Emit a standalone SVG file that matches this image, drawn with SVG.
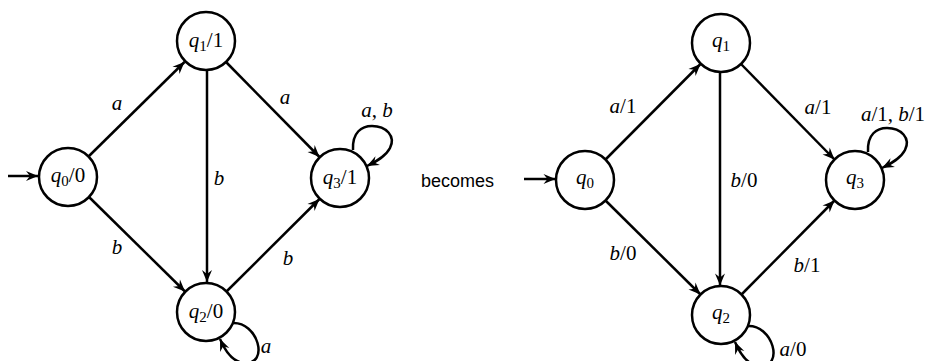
<svg xmlns="http://www.w3.org/2000/svg" width="928" height="361" viewBox="0 0 928 361">
<style>
.n{fill:#fff;stroke:#000;stroke-width:2.5}
.e{fill:none;stroke:#000;stroke-width:2.5}
text{font-family:"Liberation Serif","DejaVu Serif",serif;font-size:21px;fill:#000}
.t{text-anchor:middle}
.i{font-style:italic}
.s{font-size:15px}
.sans{font-family:"Liberation Sans","DejaVu Sans",sans-serif;font-size:18px}
</style>
<defs>
<marker id="ah" viewBox="-13 -6 14 12" refX="0" refY="0" markerWidth="14" markerHeight="12" orient="auto" markerUnits="userSpaceOnUse">
<path d="M0,0 L-12,-5 L-8,0 L-12,5 Z" fill="#000"/>
</marker>
</defs>
<g id="connectors">
<line class="e" x1="8" y1="176" x2="38" y2="176" marker-end="url(#ah)"/>
<line class="e" x1="89" y1="156" x2="184.5" y2="62" marker-end="url(#ah)"/>
<line class="e" x1="89" y1="197" x2="185" y2="291.5" marker-end="url(#ah)"/>
<line class="e" x1="207" y1="71" x2="207" y2="282" marker-end="url(#ah)"/>
<line class="e" x1="226" y1="62" x2="319.5" y2="157" marker-end="url(#ah)"/>
<line class="e" x1="227" y1="291" x2="319.5" y2="199" marker-end="url(#ah)"/>
<path class="e" d="M353,150 C352,132 362,126 372,126 C386,126 396,136 390,148 C386,156 377,161 367,166" marker-end="url(#ah)"/>
<path class="e" d="M232,323 C258,321 270,365 244,363 C233,362 226,353 220,339" marker-end="url(#ah)"/>
<text class="t i" x="117" y="110">a</text>
<text class="t i" x="117" y="254">b</text>
<text class="t i" x="219" y="185">b</text>
<text class="t i" x="285" y="104">a</text>
<text class="t" x="377" y="117"><tspan class="i">a</tspan>, <tspan class="i">b</tspan></text>
<text class="t i" x="288" y="265">b</text>
<text class="t i" x="266" y="353">a</text>

<line class="e" x1="524" y1="179" x2="555.5" y2="179" marker-end="url(#ah)"/>
<line class="e" x1="605.5" y1="159.5" x2="700.5" y2="64" marker-end="url(#ah)"/>
<line class="e" x1="605.5" y1="200.5" x2="700.5" y2="294.5" marker-end="url(#ah)"/>
<line class="e" x1="720" y1="73" x2="720" y2="285.5" marker-end="url(#ah)"/>
<line class="e" x1="741" y1="64" x2="834.5" y2="159.5" marker-end="url(#ah)"/>
<line class="e" x1="741.5" y1="294.5" x2="834.5" y2="200.5" marker-end="url(#ah)"/>
<path class="e" d="M868,152 C867,134 877,128 887,128 C901,128 911,138 905,150 C901,158 892,163 882,168" marker-end="url(#ah)"/>
<path class="e" d="M747,326 C773,324 785,368 759,366 C748,365 741,356 735,342" marker-end="url(#ah)"/>
<text class="t" x="623" y="113"><tspan class="i">a</tspan>/1</text>
<text class="t" x="623" y="260"><tspan class="i">b</tspan>/0</text>
<text class="t" x="744" y="187"><tspan class="i">b</tspan>/0</text>
<text class="t" x="818" y="114"><tspan class="i">a</tspan>/1</text>
<text class="t" x="893" y="121"><tspan class="i">a</tspan>/1, <tspan class="i">b</tspan>/1</text>
<text class="t" x="807" y="272"><tspan class="i">b</tspan>/1</text>
<text class="t" x="793" y="356"><tspan class="i">a</tspan>/0</text>
</g>
<text class="sans" x="421" y="187">becomes</text>

<g id="L_q0"><circle class="n" cx="68" cy="177" r="29"/><text class="t" x="68" y="182"><tspan class="i">q</tspan><tspan class="s" dy="4">0</tspan><tspan dy="-4">/0</tspan></text></g>
<g id="L_q1"><circle class="n" cx="206" cy="41" r="29"/><text class="t" x="206" y="47"><tspan class="i">q</tspan><tspan class="s" dy="4">1</tspan><tspan dy="-4">/1</tspan></text></g>
<g id="L_q2"><circle class="n" cx="206" cy="312" r="29"/><text class="t" x="206" y="318"><tspan class="i">q</tspan><tspan class="s" dy="4">2</tspan><tspan dy="-4">/0</tspan></text></g>
<g id="L_q3"><circle class="n" cx="340" cy="178" r="29"/><text class="t" x="340" y="184"><tspan class="i">q</tspan><tspan class="s" dy="4">3</tspan><tspan dy="-4">/1</tspan></text></g>

<g id="R_q0"><circle class="n" cx="585" cy="180" r="29"/><text class="t" x="585" y="184"><tspan class="i">q</tspan><tspan class="s" dy="4">0</tspan></text></g>
<g id="R_q1"><circle class="n" cx="721" cy="43" r="29"/><text class="t" x="721" y="47"><tspan class="i">q</tspan><tspan class="s" dy="4">1</tspan></text></g>
<g id="R_q2"><circle class="n" cx="721" cy="315" r="29"/><text class="t" x="721" y="319"><tspan class="i">q</tspan><tspan class="s" dy="4">2</tspan></text></g>
<g id="R_q3"><circle class="n" cx="855" cy="180" r="29"/><text class="t" x="855" y="184"><tspan class="i">q</tspan><tspan class="s" dy="4">3</tspan></text></g>
</svg>
